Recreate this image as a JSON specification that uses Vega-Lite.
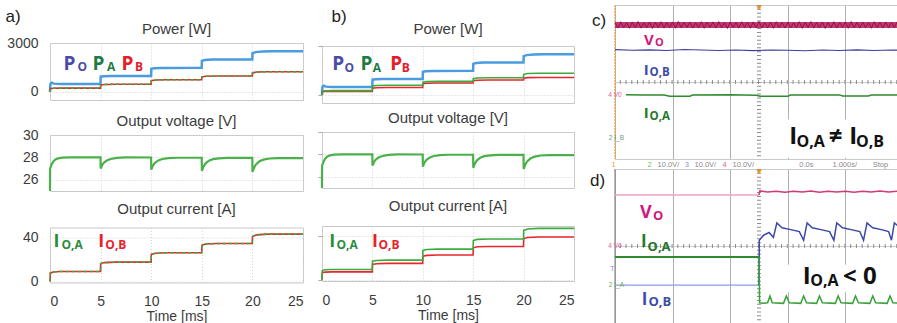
{
"$schema":"https://vega.github.io/schema/vega-lite/v6.json",
"padding":{"left":5,"top":3,"right":0,"bottom":0},
"background":"white",
"config":{
 "font":"Liberation Sans",
 "view":{"stroke":"#C8C8C8"},
 "axis":{"domain":false,"ticks":false,"tickSize":0,"gridColor":"#D2D2D2","gridDash":[1,2],"labelColor":"#3C3C3C","titleColor":"#3C3C3C","labelFont":"Liberation Sans","titleFont":"Liberation Sans","labelFontSize":14,"titleFontSize":14,"titleFontWeight":"normal","format":"d"},
 "title":{"font":"Liberation Sans","fontSize":15,"fontWeight":"normal","color":"#3C3C3C","offset":7,"baseline":"bottom","anchor":"middle","frame":"group"}
},
"datasets":{
 "powA":[
  {"t":0,"v":0,"s":"PO"},{"t":0.03,"v":470,"s":"PO"},{"t":0.15,"v":560,"s":"PO"},{"t":0.4,"v":505,"s":"PO"},{"t":1,"v":490,"s":"PO"},{"t":4.99,"v":490,"s":"PO"},{"t":5.01,"v":930,"s":"PO"},{"t":5.3,"v":955,"s":"PO"},{"t":6,"v":968,"s":"PO"},{"t":9.99,"v":970,"s":"PO"},{"t":10.01,"v":1420,"s":"PO"},{"t":10.3,"v":1450,"s":"PO"},{"t":11,"v":1470,"s":"PO"},{"t":14.99,"v":1475,"s":"PO"},{"t":15.01,"v":1900,"s":"PO"},{"t":15.3,"v":1950,"s":"PO"},{"t":16,"v":1980,"s":"PO"},{"t":19.99,"v":1985,"s":"PO"},{"t":20.01,"v":2380,"s":"PO"},{"t":20.3,"v":2440,"s":"PO"},{"t":21,"v":2480,"s":"PO"},{"t":22,"v":2500,"s":"PO"},{"t":25,"v":2500,"s":"PO"},
  {"t":0,"v":0,"s":"PAB"},{"t":0.03,"v":190,"s":"PAB"},{"t":0.3,"v":225,"s":"PAB"},{"t":1,"v":230,"s":"PAB"},{"t":4.99,"v":230,"s":"PAB"},{"t":5.01,"v":420,"s":"PAB"},{"t":5.4,"v":455,"s":"PAB"},{"t":6.5,"v":470,"s":"PAB"},{"t":9.99,"v":470,"s":"PAB"},{"t":10.01,"v":690,"s":"PAB"},{"t":10.4,"v":730,"s":"PAB"},{"t":11.5,"v":745,"s":"PAB"},{"t":14.99,"v":745,"s":"PAB"},{"t":15.01,"v":920,"s":"PAB"},{"t":15.4,"v":955,"s":"PAB"},{"t":16.5,"v":970,"s":"PAB"},{"t":19.99,"v":970,"s":"PAB"},{"t":20.01,"v":1160,"s":"PAB"},{"t":20.4,"v":1215,"s":"PAB"},{"t":21.5,"v":1235,"s":"PAB"},{"t":25,"v":1235,"s":"PAB"}
 ],
 "powB":[
  {"t":0,"v":0,"s":"PO"},{"t":0.03,"v":470,"s":"PO"},{"t":0.15,"v":560,"s":"PO"},{"t":0.4,"v":505,"s":"PO"},{"t":1,"v":490,"s":"PO"},{"t":4.99,"v":490,"s":"PO"},{"t":5.01,"v":930,"s":"PO"},{"t":5.3,"v":955,"s":"PO"},{"t":6,"v":968,"s":"PO"},{"t":9.99,"v":970,"s":"PO"},{"t":10.01,"v":1420,"s":"PO"},{"t":10.3,"v":1450,"s":"PO"},{"t":11,"v":1470,"s":"PO"},{"t":14.99,"v":1475,"s":"PO"},{"t":15.01,"v":1900,"s":"PO"},{"t":15.3,"v":1950,"s":"PO"},{"t":16,"v":1980,"s":"PO"},{"t":19.99,"v":1985,"s":"PO"},{"t":20.01,"v":2380,"s":"PO"},{"t":20.3,"v":2440,"s":"PO"},{"t":21,"v":2480,"s":"PO"},{"t":22,"v":2500,"s":"PO"},{"t":25,"v":2500,"s":"PO"},
  {"t":0,"v":0,"s":"PA"},{"t":0.03,"v":220,"s":"PA"},{"t":0.3,"v":255,"s":"PA"},{"t":1,"v":260,"s":"PA"},{"t":4.99,"v":260,"s":"PA"},{"t":5.01,"v":540,"s":"PA"},{"t":5.4,"v":575,"s":"PA"},{"t":6.5,"v":590,"s":"PA"},{"t":9.99,"v":590,"s":"PA"},{"t":10.01,"v":780,"s":"PA"},{"t":10.4,"v":815,"s":"PA"},{"t":11.5,"v":830,"s":"PA"},{"t":14.99,"v":830,"s":"PA"},{"t":15.01,"v":990,"s":"PA"},{"t":15.4,"v":1035,"s":"PA"},{"t":16.5,"v":1050,"s":"PA"},{"t":19.99,"v":1050,"s":"PA"},{"t":20.01,"v":1260,"s":"PA"},{"t":20.4,"v":1310,"s":"PA"},{"t":21.5,"v":1330,"s":"PA"},{"t":25,"v":1330,"s":"PA"},
  {"t":0,"v":0,"s":"PB"},{"t":0.03,"v":180,"s":"PB"},{"t":0.3,"v":205,"s":"PB"},{"t":1,"v":210,"s":"PB"},{"t":4.99,"v":210,"s":"PB"},{"t":5.01,"v":410,"s":"PB"},{"t":5.4,"v":440,"s":"PB"},{"t":6.5,"v":450,"s":"PB"},{"t":9.99,"v":450,"s":"PB"},{"t":10.01,"v":680,"s":"PB"},{"t":10.4,"v":715,"s":"PB"},{"t":11.5,"v":725,"s":"PB"},{"t":14.99,"v":725,"s":"PB"},{"t":15.01,"v":870,"s":"PB"},{"t":15.4,"v":900,"s":"PB"},{"t":16.5,"v":910,"s":"PB"},{"t":19.99,"v":910,"s":"PB"},{"t":20.01,"v":1020,"s":"PB"},{"t":20.4,"v":1060,"s":"PB"},{"t":21.5,"v":1070,"s":"PB"},{"t":25,"v":1070,"s":"PB"}
 ],
 "volt":[
  {"t":0,"v":25.0},{"t":0.01,"v":27.0},{"t":0.15,"v":27.35},{"t":0.3,"v":27.6},{"t":0.5,"v":27.8},{"t":0.8,"v":27.92},{"t":1.2,"v":27.98},{"t":2,"v":28.0},{"t":4.99,"v":28.0},
  {"t":5.01,"v":27.0},{"t":5.15,"v":27.3},{"t":5.3,"v":27.5},{"t":5.6,"v":27.72},{"t":6.0,"v":27.86},{"t":6.6,"v":27.95},{"t":7.5,"v":28.0},{"t":9.99,"v":27.99},
  {"t":10.01,"v":26.9},{"t":10.15,"v":27.25},{"t":10.35,"v":27.5},{"t":10.7,"v":27.73},{"t":11.1,"v":27.86},{"t":11.7,"v":27.94},{"t":12.5,"v":27.97},{"t":14.99,"v":27.97},
  {"t":15.01,"v":26.8},{"t":15.15,"v":27.15},{"t":15.35,"v":27.45},{"t":15.7,"v":27.7},{"t":16.1,"v":27.84},{"t":16.7,"v":27.92},{"t":17.5,"v":27.95},{"t":19.99,"v":27.95},
  {"t":20.01,"v":26.7},{"t":20.15,"v":27.05},{"t":20.35,"v":27.38},{"t":20.7,"v":27.65},{"t":21.1,"v":27.8},{"t":21.7,"v":27.9},{"t":22.5,"v":27.94},{"t":25,"v":27.94}
 ],
 "curA":[
  {"t":0,"v":0},{"t":0.03,"v":7.5},{"t":0.3,"v":8.6},{"t":1,"v":9},{"t":4.99,"v":9},{"t":5.01,"v":16.2},{"t":5.4,"v":17.1},{"t":6.5,"v":17.5},{"t":9.99,"v":17.5},{"t":10.01,"v":24.5},{"t":10.4,"v":25.6},{"t":11.5,"v":26},{"t":14.99,"v":26},{"t":15.01,"v":32.8},{"t":15.4,"v":34},{"t":16.5,"v":34.5},{"t":19.99,"v":34.5},{"t":20.01,"v":40.8},{"t":20.4,"v":42.3},{"t":21.5,"v":43},{"t":25,"v":43}
 ],
 "curB":[
  {"t":0,"v":0,"s":"IA"},{"t":0.03,"v":8.5,"s":"IA"},{"t":0.3,"v":9.2,"s":"IA"},{"t":1,"v":9.5,"s":"IA"},{"t":4.99,"v":9.5,"s":"IA"},{"t":5.01,"v":17,"s":"IA"},{"t":5.4,"v":17.7,"s":"IA"},{"t":6.5,"v":18,"s":"IA"},{"t":9.99,"v":18,"s":"IA"},{"t":10.01,"v":26.8,"s":"IA"},{"t":10.4,"v":27.6,"s":"IA"},{"t":11.5,"v":28,"s":"IA"},{"t":14.99,"v":28,"s":"IA"},{"t":15.01,"v":35.8,"s":"IA"},{"t":15.4,"v":36.8,"s":"IA"},{"t":16.5,"v":37.2,"s":"IA"},{"t":19.99,"v":37.2,"s":"IA"},{"t":20.01,"v":45,"s":"IA"},{"t":20.4,"v":46.3,"s":"IA"},{"t":21.5,"v":46.8,"s":"IA"},{"t":25,"v":46.8,"s":"IA"},
  {"t":0,"v":0,"s":"IB"},{"t":0.03,"v":6.5,"s":"IB"},{"t":0.3,"v":7.1,"s":"IB"},{"t":1,"v":7.3,"s":"IB"},{"t":4.99,"v":7.3,"s":"IB"},{"t":5.01,"v":14,"s":"IB"},{"t":5.4,"v":14.7,"s":"IB"},{"t":6.5,"v":15,"s":"IB"},{"t":9.99,"v":15,"s":"IB"},{"t":10.01,"v":21.6,"s":"IB"},{"t":10.4,"v":22.3,"s":"IB"},{"t":11.5,"v":22.6,"s":"IB"},{"t":14.99,"v":22.6,"s":"IB"},{"t":15.01,"v":29.2,"s":"IB"},{"t":15.4,"v":30.1,"s":"IB"},{"t":16.5,"v":30.4,"s":"IB"},{"t":19.99,"v":30.4,"s":"IB"},{"t":20.01,"v":37.6,"s":"IB"},{"t":20.4,"v":38.6,"s":"IB"},{"t":21.5,"v":39,"s":"IB"},{"t":25,"v":39,"s":"IB"}
 ],
 "scC":[
  {"t":-5,"y":2.96,"s":"VoBand"},{"t":5,"y":2.96,"s":"VoBand"},
  {"t":-5.0,"y":3.10,"s":"Vo"},{"t":-4.9,"y":2.80,"s":"Vo"},{"t":-4.8,"y":3.13,"s":"Vo"},{"t":-4.7,"y":2.82,"s":"Vo"},{"t":-4.6,"y":3.09,"s":"Vo"},{"t":-4.5,"y":2.79,"s":"Vo"},{"t":-4.4,"y":3.12,"s":"Vo"},{"t":-4.3,"y":2.83,"s":"Vo"},{"t":-4.2,"y":3.14,"s":"Vo"},{"t":-4.1,"y":2.80,"s":"Vo"},
  {"t":-4.0,"y":3.08,"s":"Vo"},{"t":-3.9,"y":2.81,"s":"Vo"},{"t":-3.8,"y":3.12,"s":"Vo"},{"t":-3.7,"y":2.78,"s":"Vo"},{"t":-3.6,"y":3.11,"s":"Vo"},{"t":-3.5,"y":2.83,"s":"Vo"},{"t":-3.4,"y":3.13,"s":"Vo"},{"t":-3.3,"y":2.80,"s":"Vo"},{"t":-3.2,"y":3.09,"s":"Vo"},{"t":-3.1,"y":2.82,"s":"Vo"},
  {"t":-3.0,"y":3.12,"s":"Vo"},{"t":-2.9,"y":2.79,"s":"Vo"},{"t":-2.8,"y":3.14,"s":"Vo"},{"t":-2.7,"y":2.81,"s":"Vo"},{"t":-2.6,"y":3.10,"s":"Vo"},{"t":-2.5,"y":2.84,"s":"Vo"},{"t":-2.4,"y":3.12,"s":"Vo"},{"t":-2.3,"y":2.80,"s":"Vo"},{"t":-2.2,"y":3.08,"s":"Vo"},{"t":-2.1,"y":2.82,"s":"Vo"},
  {"t":-2.0,"y":3.13,"s":"Vo"},{"t":-1.9,"y":2.79,"s":"Vo"},{"t":-1.8,"y":3.11,"s":"Vo"},{"t":-1.7,"y":2.83,"s":"Vo"},{"t":-1.6,"y":3.12,"s":"Vo"},{"t":-1.5,"y":2.80,"s":"Vo"},{"t":-1.4,"y":3.14,"s":"Vo"},{"t":-1.3,"y":2.81,"s":"Vo"},{"t":-1.2,"y":3.09,"s":"Vo"},{"t":-1.1,"y":2.78,"s":"Vo"},
  {"t":-1.0,"y":3.12,"s":"Vo"},{"t":-0.9,"y":2.82,"s":"Vo"},{"t":-0.8,"y":3.10,"s":"Vo"},{"t":-0.7,"y":2.80,"s":"Vo"},{"t":-0.6,"y":3.13,"s":"Vo"},{"t":-0.5,"y":2.83,"s":"Vo"},{"t":-0.4,"y":3.11,"s":"Vo"},{"t":-0.3,"y":2.79,"s":"Vo"},{"t":-0.2,"y":3.12,"s":"Vo"},{"t":-0.1,"y":2.81,"s":"Vo"},
  {"t":0.0,"y":3.14,"s":"Vo"},{"t":0.1,"y":2.80,"s":"Vo"},{"t":0.2,"y":3.09,"s":"Vo"},{"t":0.3,"y":2.82,"s":"Vo"},{"t":0.4,"y":3.12,"s":"Vo"},{"t":0.5,"y":2.79,"s":"Vo"},{"t":0.6,"y":3.13,"s":"Vo"},{"t":0.7,"y":2.83,"s":"Vo"},{"t":0.8,"y":3.10,"s":"Vo"},{"t":0.9,"y":2.80,"s":"Vo"},
  {"t":1.0,"y":3.12,"s":"Vo"},{"t":1.1,"y":2.81,"s":"Vo"},{"t":1.2,"y":3.08,"s":"Vo"},{"t":1.3,"y":2.82,"s":"Vo"},{"t":1.4,"y":3.13,"s":"Vo"},{"t":1.5,"y":2.79,"s":"Vo"},{"t":1.6,"y":3.11,"s":"Vo"},{"t":1.7,"y":2.83,"s":"Vo"},{"t":1.8,"y":3.14,"s":"Vo"},{"t":1.9,"y":2.80,"s":"Vo"},
  {"t":2.0,"y":3.10,"s":"Vo"},{"t":2.1,"y":2.81,"s":"Vo"},{"t":2.2,"y":3.12,"s":"Vo"},{"t":2.3,"y":2.78,"s":"Vo"},{"t":2.4,"y":3.09,"s":"Vo"},{"t":2.5,"y":2.82,"s":"Vo"},{"t":2.6,"y":3.13,"s":"Vo"},{"t":2.7,"y":2.80,"s":"Vo"},{"t":2.8,"y":3.11,"s":"Vo"},{"t":2.9,"y":2.83,"s":"Vo"},
  {"t":3.0,"y":3.12,"s":"Vo"},{"t":3.1,"y":2.79,"s":"Vo"},{"t":3.2,"y":3.14,"s":"Vo"},{"t":3.3,"y":2.81,"s":"Vo"},{"t":3.4,"y":3.10,"s":"Vo"},{"t":3.5,"y":2.80,"s":"Vo"},{"t":3.6,"y":3.12,"s":"Vo"},{"t":3.7,"y":2.82,"s":"Vo"},{"t":3.8,"y":3.09,"s":"Vo"},{"t":3.9,"y":2.79,"s":"Vo"},
  {"t":4.0,"y":3.13,"s":"Vo"},{"t":4.1,"y":2.83,"s":"Vo"},{"t":4.2,"y":3.11,"s":"Vo"},{"t":4.3,"y":2.80,"s":"Vo"},{"t":4.4,"y":3.12,"s":"Vo"},{"t":4.5,"y":2.81,"s":"Vo"},{"t":4.6,"y":3.10,"s":"Vo"},{"t":4.7,"y":2.82,"s":"Vo"},{"t":4.8,"y":3.13,"s":"Vo"},{"t":4.9,"y":2.79,"s":"Vo"},{"t":5.0,"y":3.11,"s":"Vo"},
  {"t":-5,"y":1.68,"s":"IB"},{"t":-4.4,"y":1.65,"s":"IB"},{"t":-3.8,"y":1.67,"s":"IB"},{"t":-3.2,"y":1.64,"s":"IB"},{"t":-2.6,"y":1.69,"s":"IB"},{"t":-2.0,"y":1.66,"s":"IB"},{"t":-1.4,"y":1.64,"s":"IB"},{"t":-0.8,"y":1.66,"s":"IB"},{"t":-0.2,"y":1.63,"s":"IB"},{"t":0.4,"y":1.66,"s":"IB"},{"t":1.0,"y":1.65,"s":"IB"},{"t":1.6,"y":1.62,"s":"IB"},{"t":2.2,"y":1.66,"s":"IB"},{"t":2.8,"y":1.64,"s":"IB"},{"t":3.4,"y":1.67,"s":"IB"},{"t":4.0,"y":1.64,"s":"IB"},{"t":4.6,"y":1.66,"s":"IB"},{"t":5,"y":1.65,"s":"IB"},
  {"t":-4.62,"y":-0.66,"s":"IA"},{"t":-4.0,"y":-0.68,"s":"IA"},{"t":-3.3,"y":-0.67,"s":"IA"},{"t":-3.1,"y":-0.74,"s":"IA"},{"t":-2.4,"y":-0.74,"s":"IA"},{"t":-2.3,"y":-0.68,"s":"IA"},{"t":-1.0,"y":-0.66,"s":"IA"},{"t":-0.1,"y":-0.69,"s":"IA"},{"t":0.05,"y":-0.74,"s":"IA"},{"t":1.0,"y":-0.74,"s":"IA"},{"t":1.1,"y":-0.68,"s":"IA"},{"t":2.8,"y":-0.67,"s":"IA"},{"t":2.9,"y":-0.73,"s":"IA"},{"t":3.8,"y":-0.73,"s":"IA"},{"t":3.9,"y":-0.68,"s":"IA"},{"t":5,"y":-0.68,"s":"IA"}
 ],
 "scD":[
  {"t":-5,"y":2.65,"s":"VoL"},{"t":0,"y":2.65,"s":"VoL"},
  {"t":0,"y":2.65,"s":"VoR"},{"t":0.03,"y":2.86,"s":"VoR"},{"t":0.3,"y":2.8,"s":"VoR"},{"t":0.6,"y":2.85,"s":"VoR"},{"t":0.9,"y":2.79,"s":"VoR"},{"t":1.2,"y":2.84,"s":"VoR"},{"t":1.5,"y":2.8,"s":"VoR"},{"t":1.8,"y":2.86,"s":"VoR"},{"t":2.1,"y":2.79,"s":"VoR"},{"t":2.4,"y":2.84,"s":"VoR"},{"t":2.7,"y":2.8,"s":"VoR"},{"t":3.0,"y":2.85,"s":"VoR"},{"t":3.3,"y":2.79,"s":"VoR"},{"t":3.6,"y":2.84,"s":"VoR"},{"t":3.9,"y":2.8,"s":"VoR"},{"t":4.2,"y":2.86,"s":"VoR"},{"t":4.5,"y":2.8,"s":"VoR"},{"t":4.8,"y":2.84,"s":"VoR"},{"t":5,"y":2.81,"s":"VoR"},
  {"t":-5,"y":-0.57,"s":"IAL"},{"t":0,"y":-0.57,"s":"IAL"},
  {"t":0,"y":-0.57,"s":"IAR"},{"t":0.02,"y":-2.95,"s":"IAR"},{"t":0.15,"y":-2.98,"s":"IAR"},{"t":0.3,"y":-2.95,"s":"IAR"},{"t":0.38,"y":-2.6,"s":"IAR"},{"t":0.46,"y":-2.95,"s":"IAR"},{"t":0.85,"y":-2.98,"s":"IAR"},{"t":0.95,"y":-2.6,"s":"IAR"},{"t":1.05,"y":-2.95,"s":"IAR"},{"t":1.45,"y":-2.98,"s":"IAR"},{"t":1.55,"y":-2.6,"s":"IAR"},{"t":1.65,"y":-2.95,"s":"IAR"},{"t":2.0,"y":-2.98,"s":"IAR"},{"t":2.1,"y":-2.6,"s":"IAR"},{"t":2.2,"y":-2.95,"s":"IAR"},{"t":2.65,"y":-2.98,"s":"IAR"},{"t":2.75,"y":-2.6,"s":"IAR"},{"t":2.85,"y":-2.95,"s":"IAR"},{"t":3.25,"y":-2.98,"s":"IAR"},{"t":3.35,"y":-2.6,"s":"IAR"},{"t":3.45,"y":-2.95,"s":"IAR"},{"t":3.85,"y":-2.98,"s":"IAR"},{"t":3.95,"y":-2.6,"s":"IAR"},{"t":4.05,"y":-2.95,"s":"IAR"},{"t":4.45,"y":-2.98,"s":"IAR"},{"t":4.55,"y":-2.6,"s":"IAR"},{"t":4.65,"y":-2.95,"s":"IAR"},{"t":5,"y":-2.97,"s":"IAR"},
  {"t":-5,"y":-2.03,"s":"IBL"},{"t":0,"y":-2.03,"s":"IBL"},
  {"t":0,"y":-2.03,"s":"IBR"},{"t":0.01,"y":0.3,"s":"IBR"},{"t":0.15,"y":0.55,"s":"IBR"},{"t":0.35,"y":0.7,"s":"IBR"},{"t":0.5,"y":0.45,"s":"IBR"},{"t":0.62,"y":1.2,"s":"IBR"},{"t":0.8,"y":0.95,"s":"IBR"},{"t":1.1,"y":0.85,"s":"IBR"},{"t":1.4,"y":0.75,"s":"IBR"},{"t":1.55,"y":0.3,"s":"IBR"},{"t":1.67,"y":1.2,"s":"IBR"},{"t":1.85,"y":0.95,"s":"IBR"},{"t":2.15,"y":0.85,"s":"IBR"},{"t":2.45,"y":0.75,"s":"IBR"},{"t":2.6,"y":0.3,"s":"IBR"},{"t":2.7,"y":1.2,"s":"IBR"},{"t":2.9,"y":0.95,"s":"IBR"},{"t":3.2,"y":0.85,"s":"IBR"},{"t":3.5,"y":0.75,"s":"IBR"},{"t":3.63,"y":0.3,"s":"IBR"},{"t":3.75,"y":1.2,"s":"IBR"},{"t":3.95,"y":0.95,"s":"IBR"},{"t":4.25,"y":0.85,"s":"IBR"},{"t":4.5,"y":0.75,"s":"IBR"},{"t":4.6,"y":0.3,"s":"IBR"},{"t":4.7,"y":1.2,"s":"IBR"},{"t":4.9,"y":0.95,"s":"IBR"},{"t":5,"y":0.9,"s":"IBR"}
 ]
},
"spacing":9,
"hconcat":[
 {"spacing":7,"hconcat":[
  {"spacing":-4,"vconcat":[
   {"width":253,"height":1,"view":{"stroke":null},"data":{"values":[{}]},"mark":{"type":"text","text":"a)","font":"Liberation Sans","fontSize":17,"color":"#222222","align":"left","baseline":"middle","dy":11.5},"encoding":{"x":{"datum":-4.4,"type":"quantitative","scale":{"domain":[0,25],"nice":false,"zero":false},"axis":null}}},
   {"spacing":12,"vconcat":[
    {"width":253,"height":57,"title":{"text":"Power [W]","offset":-1},"layer":[
     {"data":{"name":"powA"},"transform":[{"filter":{"field":"s","equal":"PO"}}],"mark":{"type":"line","color":"#4A9BDF","strokeWidth":2.5},
      "encoding":{"x":{"field":"t","type":"quantitative","scale":{"domain":[0,25],"nice":false,"zero":false},"axis":{"values":[0,5,10,15,20,25],"labels":false,"grid":true,"title":null}},
                  "y":{"field":"v","type":"quantitative","scale":{"domain":[-500,3000],"nice":false,"zero":false},"axis":{"values":[0,1000,2000,3000],"labelPadding":12,"grid":true,"title":null}}}},
     {"data":{"name":"powA"},"transform":[{"filter":{"field":"s","equal":"PAB"}}],"mark":{"type":"line","color":"#E8262D","strokeWidth":1.6},"encoding":{"x":{"field":"t","type":"quantitative"},"y":{"field":"v","type":"quantitative"}}},
     {"data":{"name":"powA"},"transform":[{"filter":{"field":"s","equal":"PAB"}}],"mark":{"type":"line","color":"#3DAA3D","strokeWidth":1.6,"strokeDash":[3,3]},"encoding":{"x":{"field":"t","type":"quantitative"},"y":{"field":"v","type":"quantitative"}}},
     {"data":{"values":[{}]},"mark":{"type":"text","text":"P","font":"Open Sans","fontWeight":"bold","fontSize":19,"color":"#4B4BA6","align":"left","baseline":"alphabetic"},"encoding":{"x":{"datum":1.33},"y":{"datum":1366}}},
     {"data":{"values":[{}]},"mark":{"type":"text","text":"O","font":"Open Sans","fontWeight":"bold","fontSize":12,"color":"#4B4BA6","align":"left","baseline":"alphabetic"},"encoding":{"x":{"datum":2.71},"y":{"datum":1268}}},
     {"data":{"values":[{}]},"mark":{"type":"text","text":"P","font":"Open Sans","fontWeight":"bold","fontSize":19,"color":"#1E7B45","align":"left","baseline":"alphabetic"},"encoding":{"x":{"datum":4.2},"y":{"datum":1366}}},
     {"data":{"values":[{}]},"mark":{"type":"text","text":"A","font":"Open Sans","fontWeight":"bold","fontSize":12,"color":"#1E7B45","align":"left","baseline":"alphabetic"},"encoding":{"x":{"datum":5.63},"y":{"datum":1268}}},
     {"data":{"values":[{}]},"mark":{"type":"text","text":"P","font":"Open Sans","fontWeight":"bold","fontSize":19,"color":"#E3202A","align":"left","baseline":"alphabetic"},"encoding":{"x":{"datum":7.07},"y":{"datum":1366}}},
     {"data":{"values":[{}]},"mark":{"type":"text","text":"B","font":"Open Sans","fontWeight":"bold","fontSize":12,"color":"#E3202A","align":"left","baseline":"alphabetic"},"encoding":{"x":{"datum":8.4},"y":{"datum":1268}}}
    ]},
    {"spacing":4.5,"vconcat":[
     {"width":253,"height":56,"title":{"text":"Output voltage [V]","offset":-0.5},"layer":[
      {"data":{"name":"volt"},"mark":{"type":"line","color":"#4AB04A","strokeWidth":2.2},
       "encoding":{"x":{"field":"t","type":"quantitative","scale":{"domain":[0,25],"nice":false,"zero":false},"axis":{"values":[0,5,10,15,20,25],"labels":false,"grid":true,"title":null}},
                   "y":{"field":"v","type":"quantitative","scale":{"domain":[25,30],"nice":false,"zero":false},"axis":{"values":[26,28,30],"labelPadding":12,"grid":true,"title":null}}}}
     ]},
     {"width":253,"height":55,"title":{"text":"Output current [A]","offset":11},"layer":[
      {"data":{"name":"curA"},"mark":{"type":"line","color":"#E8262D","strokeWidth":1.6},
       "encoding":{"x":{"field":"t","type":"quantitative","scale":{"domain":[0,25],"nice":false,"zero":false},"axis":{"values":[0,5,10,15,20,25],"labels":true,"labelPadding":12,"grid":true,"title":"Time [ms]","titlePadding":1}},
                   "y":{"field":"v","type":"quantitative","scale":{"domain":[-1,49],"nice":false,"zero":false},"axis":{"values":[0,20,40],"labelPadding":12,"grid":true,"title":null}}}},
      {"data":{"name":"curA"},"mark":{"type":"line","color":"#3DAA3D","strokeWidth":1.6,"strokeDash":[3,3]},"encoding":{"x":{"field":"t","type":"quantitative"},"y":{"field":"v","type":"quantitative"}}},
      {"data":{"values":[{}]},"mark":{"type":"text","text":"I","font":"Open Sans","fontWeight":"bold","fontSize":18,"color":"#2C8C3C","align":"left","baseline":"alphabetic"},"encoding":{"x":{"datum":0.34},"y":{"datum":31.2}}},
      {"data":{"values":[{}]},"mark":{"type":"text","text":"O,A","font":"Open Sans","fontWeight":"bold","fontSize":12,"color":"#2C8C3C","align":"left","baseline":"alphabetic"},"encoding":{"x":{"datum":1.13},"y":{"datum":29.1}}},
      {"data":{"values":[{}]},"mark":{"type":"text","text":"I","font":"Open Sans","fontWeight":"bold","fontSize":18,"color":"#E8202A","align":"left","baseline":"alphabetic"},"encoding":{"x":{"datum":4.78},"y":{"datum":31.2}}},
      {"data":{"values":[{}]},"mark":{"type":"text","text":"O,B","font":"Open Sans","fontWeight":"bold","fontSize":12,"color":"#E8202A","align":"left","baseline":"alphabetic"},"encoding":{"x":{"datum":5.47},"y":{"datum":29.1}}}
     ]}
    ]}
   ]}
  ]},
  {"spacing":-4,"vconcat":[
   {"width":252,"height":1,"view":{"stroke":null},"data":{"values":[{}]},"mark":{"type":"text","text":"b)","font":"Liberation Sans","fontSize":17,"color":"#222222","align":"left","baseline":"middle","dy":11.5},"encoding":{"x":{"datum":0.95,"type":"quantitative","scale":{"domain":[0,25],"nice":false,"zero":false},"axis":null}}},
   {"spacing":6,"vconcat":[
    {"width":252,"height":57,"title":{"text":"Power [W]","offset":8.5},"layer":[
     {"data":{"name":"powB"},"transform":[{"filter":{"field":"s","equal":"PO"}}],"mark":{"type":"line","color":"#4A9BDF","strokeWidth":2.5},
      "encoding":{"x":{"field":"t","type":"quantitative","scale":{"domain":[0,25],"nice":false,"zero":false},"axis":{"values":[0,5,10,15,20,25],"labels":false,"grid":true,"title":null}},
                  "y":{"field":"v","type":"quantitative","scale":{"domain":[-500,3000],"nice":false,"zero":false},"axis":{"values":[0,1000,2000,3000],"labels":false,"ticks":true,"tickSize":4,"tickColor":"#A8A8A8","grid":true,"title":null}}}},
     {"data":{"name":"powB"},"transform":[{"filter":{"field":"s","equal":"PB"}}],"mark":{"type":"line","color":"#E8262D","strokeWidth":1.6},"encoding":{"x":{"field":"t","type":"quantitative"},"y":{"field":"v","type":"quantitative"}}},
     {"data":{"name":"powB"},"transform":[{"filter":{"field":"s","equal":"PA"}}],"mark":{"type":"line","color":"#3DAA3D","strokeWidth":1.6},"encoding":{"x":{"field":"t","type":"quantitative"},"y":{"field":"v","type":"quantitative"}}},
     {"data":{"values":[{}]},"mark":{"type":"text","text":"P","font":"Open Sans","fontWeight":"bold","fontSize":19,"color":"#4B4BA6","align":"left","baseline":"alphabetic"},"encoding":{"x":{"datum":1.01},"y":{"datum":1512}}},
     {"data":{"values":[{}]},"mark":{"type":"text","text":"O","font":"Open Sans","fontWeight":"bold","fontSize":12,"color":"#4B4BA6","align":"left","baseline":"alphabetic"},"encoding":{"x":{"datum":2.22},"y":{"datum":1420}}},
     {"data":{"values":[{}]},"mark":{"type":"text","text":"P","font":"Open Sans","fontWeight":"bold","fontSize":19,"color":"#1E7B45","align":"left","baseline":"alphabetic"},"encoding":{"x":{"datum":3.82},"y":{"datum":1512}}},
     {"data":{"values":[{}]},"mark":{"type":"text","text":"A","font":"Open Sans","fontWeight":"bold","fontSize":12,"color":"#1E7B45","align":"left","baseline":"alphabetic"},"encoding":{"x":{"datum":5.03},"y":{"datum":1420}}},
     {"data":{"values":[{}]},"mark":{"type":"text","text":"P","font":"Open Sans","fontWeight":"bold","fontSize":19,"color":"#E3202A","align":"left","baseline":"alphabetic"},"encoding":{"x":{"datum":6.77},"y":{"datum":1512}}},
     {"data":{"values":[{}]},"mark":{"type":"text","text":"B","font":"Open Sans","fontWeight":"bold","fontSize":12,"color":"#E3202A","align":"left","baseline":"alphabetic"},"encoding":{"x":{"datum":7.91},"y":{"datum":1420}}}
    ]},
    {"spacing":5,"vconcat":[
     {"width":252,"height":56,"title":{"text":"Output voltage [V]","offset":6},"layer":[
      {"data":{"name":"volt"},"mark":{"type":"line","color":"#4AB04A","strokeWidth":2.2},
       "encoding":{"x":{"field":"t","type":"quantitative","scale":{"domain":[0,25],"nice":false,"zero":false},"axis":{"values":[0,5,10,15,20,25],"labels":false,"grid":true,"title":null}},
                   "y":{"field":"v","type":"quantitative","scale":{"domain":[25,30],"nice":false,"zero":false},"axis":{"values":[26,28,30],"labels":false,"ticks":true,"tickSize":4,"tickColor":"#A8A8A8","grid":true,"title":null}}}}
     ]},
     {"width":252,"height":55,"title":{"text":"Output current [A]","offset":11},"layer":[
      {"data":{"name":"curB"},"transform":[{"filter":{"field":"s","equal":"IB"}}],"mark":{"type":"line","color":"#E8262D","strokeWidth":1.6},
       "encoding":{"x":{"field":"t","type":"quantitative","scale":{"domain":[0,25],"nice":false,"zero":false},"axis":{"values":[0,5,10,15,20,25],"labels":true,"labelPadding":12,"grid":true,"title":"Time [ms]","titlePadding":1}},
                   "y":{"field":"v","type":"quantitative","scale":{"domain":[-1,49],"nice":false,"zero":false},"axis":{"values":[0,20,40],"labels":false,"ticks":true,"tickSize":4,"tickColor":"#A8A8A8","grid":true,"title":null}}}},
      {"data":{"name":"curB"},"transform":[{"filter":{"field":"s","equal":"IA"}}],"mark":{"type":"line","color":"#3DAA3D","strokeWidth":1.6},"encoding":{"x":{"field":"t","type":"quantitative"},"y":{"field":"v","type":"quantitative"}}},
      {"data":{"values":[{}]},"mark":{"type":"text","text":"I","font":"Open Sans","fontWeight":"bold","fontSize":18,"color":"#2C8C3C","align":"left","baseline":"alphabetic"},"encoding":{"x":{"datum":0.73},"y":{"datum":29.7}}},
      {"data":{"values":[{}]},"mark":{"type":"text","text":"O,A","font":"Open Sans","fontWeight":"bold","fontSize":12,"color":"#2C8C3C","align":"left","baseline":"alphabetic"},"encoding":{"x":{"datum":1.43},"y":{"datum":28.0}}},
      {"data":{"values":[{}]},"mark":{"type":"text","text":"I","font":"Open Sans","fontWeight":"bold","fontSize":18,"color":"#E8202A","align":"left","baseline":"alphabetic"},"encoding":{"x":{"datum":4.97},"y":{"datum":29.7}}},
      {"data":{"values":[{}]},"mark":{"type":"text","text":"O,B","font":"Open Sans","fontWeight":"bold","fontSize":12,"color":"#E8202A","align":"left","baseline":"alphabetic"},"encoding":{"x":{"datum":5.6},"y":{"datum":28.0}}}
     ]}
    ]}
   ]}
  ]}
 ]},
 {"spacing":-4,"vconcat":[
  {"width":288,"height":154,"view":{"stroke":null},"layer":[
   {"data":{"values":[{}]},"mark":{"type":"rect","color":"white"},"encoding":{"x":{"datum":0.9},"x2":{"datum":5.3},"y":{"datum":-1.95},"y2":{"datum":-3.93}}},
   {"data":{"values":[{}]},"mark":{"type":"rule","color":"#8C8C8C","strokeWidth":4,"strokeDash":[1,4.76]},"encoding":{"y":{"datum":0}}},
   {"data":{"values":[{}]},"mark":{"type":"rule","color":"#8C8C8C","strokeWidth":4,"strokeDash":[1,2.85]},"encoding":{"x":{"datum":0}}},
   {"data":{"values":[{}]},"mark":{"type":"rule","color":"#E9A65A","strokeWidth":1.5,"strokeDash":[2,1]},"encoding":{"x":{"datum":-5}}},
   {"data":{"name":"scC"},"transform":[{"filter":{"field":"s","equal":"VoBand"}}],"mark":{"type":"line","color":"#C23A72","strokeWidth":6},
    "encoding":{"x":{"field":"t","type":"quantitative","scale":{"domain":[-5,5],"nice":false,"zero":false},"axis":{"values":[-5,-4,-3,-2,-1,0,1,2,3,4,5],"labels":false,"grid":true,"gridDash":[],"gridColor":"#B0B0B0","gridWidth":1,"title":null}},
                "y":{"field":"y","type":"quantitative","scale":{"domain":[-4,4],"nice":false,"zero":false},"axis":{"values":[-4,-3,-2,-1,0,1,2,3,4],"labels":false,"grid":true,"gridDash":[],"gridColor":"#CACACA","gridWidth":1.2,"title":null}}}},
   {"data":{"name":"scC"},"transform":[{"filter":{"field":"s","equal":"Vo"}}],"mark":{"type":"line","color":"#8A0F45","strokeWidth":0.9},"encoding":{"x":{"field":"t","type":"quantitative"},"y":{"field":"y","type":"quantitative"}}},
   {"data":{"name":"scC"},"transform":[{"filter":{"field":"s","equal":"IB"}}],"mark":{"type":"line","color":"#3B3F9E","strokeWidth":1.1},"encoding":{"x":{"field":"t","type":"quantitative"},"y":{"field":"y","type":"quantitative"}}},
   {"data":{"name":"scC"},"transform":[{"filter":{"field":"s","equal":"IA"}}],"mark":{"type":"line","color":"#2E8B2E","strokeWidth":1.5},"encoding":{"x":{"field":"t","type":"quantitative"},"y":{"field":"y","type":"quantitative"}}},
   {"data":{"values":[{}]},"mark":{"type":"point","shape":"triangle-down","filled":true,"color":"#F09020","size":30,"opacity":1},"encoding":{"x":{"datum":0},"y":{"datum":3.85}}},
   {"data":{"values":[{}]},"mark":{"type":"text","text":"c)","font":"Liberation Sans","fontSize":17,"color":"#222222","align":"left","baseline":"middle"},"encoding":{"x":{"datum":-5.8},"y":{"datum":3.17}}},
   {"data":{"values":[{}]},"mark":{"type":"text","text":"V","font":"Open Sans","fontWeight":"bold","fontSize":15,"color":"#D4177A","align":"left","baseline":"alphabetic"},"encoding":{"x":{"datum":-3.99},"y":{"datum":1.92}}},
   {"data":{"values":[{}]},"mark":{"type":"text","text":"O","font":"Open Sans","fontWeight":"bold","fontSize":11,"color":"#D4177A","align":"left","baseline":"alphabetic"},"encoding":{"x":{"datum":-3.61},"y":{"datum":1.87}}},
   {"data":{"values":[{}]},"mark":{"type":"text","text":"I","font":"Open Sans","fontWeight":"bold","fontSize":15,"color":"#3C4BA8","align":"left","baseline":"alphabetic"},"encoding":{"x":{"datum":-4.0},"y":{"datum":0.36}}},
   {"data":{"values":[{}]},"mark":{"type":"text","text":"O,B","font":"Open Sans","fontWeight":"bold","fontSize":11.5,"color":"#3C4BA8","align":"left","baseline":"alphabetic"},"encoding":{"x":{"datum":-3.8},"y":{"datum":0.31}}},
   {"data":{"values":[{}]},"mark":{"type":"text","text":"I","font":"Open Sans","fontWeight":"bold","fontSize":15,"color":"#27792A","align":"left","baseline":"alphabetic"},"encoding":{"x":{"datum":-4.0},"y":{"datum":-1.87}}},
   {"data":{"values":[{}]},"mark":{"type":"text","text":"O,A","font":"Open Sans","fontWeight":"bold","fontSize":11.5,"color":"#27792A","align":"left","baseline":"alphabetic"},"encoding":{"x":{"datum":-3.8},"y":{"datum":-1.97}}},
   {"data":{"values":[{}]},"mark":{"type":"text","text":"I","font":"Open Sans","fontWeight":"bold","fontSize":24,"color":"#111111","align":"left","baseline":"alphabetic"},"encoding":{"x":{"datum":1.05},"y":{"datum":-3.22}}},
   {"data":{"values":[{}]},"mark":{"type":"text","text":"O,A","font":"Open Sans","fontWeight":"bold","fontSize":16,"color":"#111111","align":"left","baseline":"alphabetic"},"encoding":{"x":{"datum":1.3},"y":{"datum":-3.38}}},
   {"data":{"values":[{}]},"mark":{"type":"text","text":"≠","font":"Open Sans","fontWeight":"bold","fontSize":24,"color":"#111111","align":"left","baseline":"alphabetic"},"encoding":{"x":{"datum":2.42},"y":{"datum":-3.22}}},
   {"data":{"values":[{}]},"mark":{"type":"text","text":"I","font":"Open Sans","fontWeight":"bold","fontSize":24,"color":"#111111","align":"left","baseline":"alphabetic"},"encoding":{"x":{"datum":3.13},"y":{"datum":-3.22}}},
   {"data":{"values":[{}]},"mark":{"type":"text","text":"O,B","font":"Open Sans","fontWeight":"bold","fontSize":16,"color":"#111111","align":"left","baseline":"alphabetic"},"encoding":{"x":{"datum":3.37},"y":{"datum":-3.38}}},
   {"data":{"values":[{}]},"mark":{"type":"text","text":"4 V0","fontSize":6.5,"color":"#E0609A","align":"center","baseline":"middle"},"encoding":{"x":{"datum":-5.0},"y":{"datum":-0.68}}},
   {"data":{"values":[{}]},"mark":{"type":"text","text":"2 I_B","fontSize":6.5,"color":"#6A9A8A","align":"center","baseline":"middle"},"encoding":{"x":{"datum":-4.95},"y":{"datum":-2.91}}},
   {"data":{"values":[{}]},"mark":{"type":"text","text":"1","fontSize":7.5,"color":"#F0A040","align":"left","baseline":"middle"},"encoding":{"x":{"datum":-5.12},"y":{"datum":-4.31}}},
   {"data":{"values":[{}]},"mark":{"type":"text","text":"2","fontSize":7.5,"color":"#7DBB5A","align":"left","baseline":"middle"},"encoding":{"x":{"datum":-3.87},"y":{"datum":-4.31}}},
   {"data":{"values":[{}]},"mark":{"type":"text","text":"10.0V/","fontSize":7.5,"color":"#8A8A8A","align":"left","baseline":"middle"},"encoding":{"x":{"datum":-3.52},"y":{"datum":-4.31}}},
   {"data":{"values":[{}]},"mark":{"type":"text","text":"3","fontSize":7.5,"color":"#8A90D0","align":"left","baseline":"middle"},"encoding":{"x":{"datum":-2.58},"y":{"datum":-4.31}}},
   {"data":{"values":[{}]},"mark":{"type":"text","text":"10.0V/","fontSize":7.5,"color":"#8A8A8A","align":"left","baseline":"middle"},"encoding":{"x":{"datum":-2.24},"y":{"datum":-4.31}}},
   {"data":{"values":[{}]},"mark":{"type":"text","text":"4","fontSize":7.5,"color":"#E0609A","align":"left","baseline":"middle"},"encoding":{"x":{"datum":-1.27},"y":{"datum":-4.31}}},
   {"data":{"values":[{}]},"mark":{"type":"text","text":"10.0V/","fontSize":7.5,"color":"#8A8A8A","align":"left","baseline":"middle"},"encoding":{"x":{"datum":-0.92},"y":{"datum":-4.31}}},
   {"data":{"values":[{}]},"mark":{"type":"text","text":"0.0s","fontSize":7.5,"color":"#8A8A8A","align":"left","baseline":"middle"},"encoding":{"x":{"datum":1.4},"y":{"datum":-4.31}}},
   {"data":{"values":[{}]},"mark":{"type":"text","text":"1.000s/","fontSize":7.5,"color":"#8A8A8A","align":"left","baseline":"middle"},"encoding":{"x":{"datum":2.55},"y":{"datum":-4.31}}},
   {"data":{"values":[{}]},"mark":{"type":"text","text":"Stop","fontSize":7.5,"color":"#8A8A8A","align":"left","baseline":"middle"},"encoding":{"x":{"datum":3.95},"y":{"datum":-4.31}}}
  ]},
  {"width":288,"height":154,"view":{"stroke":null},"layer":[
   {"data":{"values":[{}]},"mark":{"type":"rect","color":"white"},"encoding":{"x":{"datum":0.9},"x2":{"datum":5.3},"y":{"datum":-0.98},"y2":{"datum":-2.4}}},
   {"data":{"values":[{}]},"mark":{"type":"rule","color":"#8C8C8C","strokeWidth":4,"strokeDash":[1,4.76]},"encoding":{"y":{"datum":0}}},
   {"data":{"values":[{}]},"mark":{"type":"rule","color":"#8C8C8C","strokeWidth":4,"strokeDash":[1,2.85]},"encoding":{"x":{"datum":0}}},
   {"data":{"values":[{}]},"mark":{"type":"rule","color":"#8A8A8A","strokeWidth":1.2},"encoding":{"x":{"datum":-5}}},
   {"data":{"name":"scD"},"transform":[{"filter":{"field":"s","equal":"VoL"}}],"mark":{"type":"line","color":"#F2A0C4","strokeWidth":1.3},
    "encoding":{"x":{"field":"t","type":"quantitative","scale":{"domain":[-5,5],"nice":false,"zero":false},"axis":{"values":[-5,-4,-3,-2,-1,0,1,2,3,4,5],"labels":false,"grid":true,"gridDash":[],"gridColor":"#B0B0B0","gridWidth":1,"title":null}},
                "y":{"field":"y","type":"quantitative","scale":{"domain":[-4,4],"nice":false,"zero":false},"axis":{"values":[-4,-3,-2,-1,0,1,2,3,4],"labels":false,"grid":true,"gridDash":[],"gridColor":"#CACACA","gridWidth":1.2,"title":null}}}},
   {"data":{"name":"scD"},"transform":[{"filter":{"field":"s","equal":"VoR"}}],"mark":{"type":"line","color":"#D23A76","strokeWidth":1.5},"encoding":{"x":{"field":"t","type":"quantitative"},"y":{"field":"y","type":"quantitative"}}},
   {"data":{"name":"scD"},"transform":[{"filter":{"field":"s","equal":"IBL"}}],"mark":{"type":"line","color":"#8C9BE6","strokeWidth":1.1},"encoding":{"x":{"field":"t","type":"quantitative"},"y":{"field":"y","type":"quantitative"}}},
   {"data":{"name":"scD"},"transform":[{"filter":{"field":"s","equal":"IBR"}}],"mark":{"type":"line","color":"#3A48A8","strokeWidth":1.5},"encoding":{"x":{"field":"t","type":"quantitative"},"y":{"field":"y","type":"quantitative"}}},
   {"data":{"name":"scD"},"transform":[{"filter":{"field":"s","equal":"IAL"}}],"mark":{"type":"line","color":"#2E8B2E","strokeWidth":2},"encoding":{"x":{"field":"t","type":"quantitative"},"y":{"field":"y","type":"quantitative"}}},
   {"data":{"name":"scD"},"transform":[{"filter":{"field":"s","equal":"IAR"}}],"mark":{"type":"line","color":"#3AA03A","strokeWidth":1.5},"encoding":{"x":{"field":"t","type":"quantitative"},"y":{"field":"y","type":"quantitative"}}},
   {"data":{"values":[{}]},"mark":{"type":"point","shape":"triangle-down","filled":true,"color":"#F09020","size":30,"opacity":1},"encoding":{"x":{"datum":0},"y":{"datum":3.85}}},
   {"data":{"values":[{}]},"mark":{"type":"text","text":"d)","font":"Liberation Sans","fontSize":17,"color":"#222222","align":"left","baseline":"middle"},"encoding":{"x":{"datum":-5.87},"y":{"datum":3.38}}},
   {"data":{"values":[{}]},"mark":{"type":"text","text":"V","font":"Open Sans","fontWeight":"bold","fontSize":18,"color":"#D4177A","align":"left","baseline":"alphabetic"},"encoding":{"x":{"datum":-4.13},"y":{"datum":1.45}}},
   {"data":{"values":[{}]},"mark":{"type":"text","text":"O","font":"Open Sans","fontWeight":"bold","fontSize":13,"color":"#D4177A","align":"left","baseline":"alphabetic"},"encoding":{"x":{"datum":-3.68},"y":{"datum":1.35}}},
   {"data":{"values":[{}]},"mark":{"type":"text","text":"I","font":"Open Sans","fontWeight":"bold","fontSize":17,"color":"#27792A","align":"left","baseline":"alphabetic"},"encoding":{"x":{"datum":-4.1},"y":{"datum":-0.05}}},
   {"data":{"values":[{}]},"mark":{"type":"text","text":"O,A","font":"Open Sans","fontWeight":"bold","fontSize":13,"color":"#27792A","align":"left","baseline":"alphabetic"},"encoding":{"x":{"datum":-3.87},"y":{"datum":-0.26}}},
   {"data":{"values":[{}]},"mark":{"type":"text","text":"I","font":"Open Sans","fontWeight":"bold","fontSize":17,"color":"#3C4BA8","align":"left","baseline":"alphabetic"},"encoding":{"x":{"datum":-4.07},"y":{"datum":-3.06}}},
   {"data":{"values":[{}]},"mark":{"type":"text","text":"O,B","font":"Open Sans","fontWeight":"bold","fontSize":13,"color":"#3C4BA8","align":"left","baseline":"alphabetic"},"encoding":{"x":{"datum":-3.84},"y":{"datum":-3.1}}},
   {"data":{"values":[{}]},"mark":{"type":"text","text":"I","font":"Open Sans","fontWeight":"bold","fontSize":24,"color":"#111111","align":"left","baseline":"alphabetic"},"encoding":{"x":{"datum":1.52},"y":{"datum":-1.97}}},
   {"data":{"values":[{}]},"mark":{"type":"text","text":"O,A","font":"Open Sans","fontWeight":"bold","fontSize":16,"color":"#111111","align":"left","baseline":"alphabetic"},"encoding":{"x":{"datum":1.78},"y":{"datum":-2.1}}},
   {"data":{"values":[{}]},"mark":{"type":"text","text":"< 0","font":"Open Sans","fontWeight":"bold","fontSize":24,"color":"#111111","align":"left","baseline":"alphabetic"},"encoding":{"x":{"datum":2.92},"y":{"datum":-1.97}}},
   {"data":{"values":[{}]},"mark":{"type":"text","text":"4 V0","fontSize":6.5,"color":"#E0609A","align":"center","baseline":"middle"},"encoding":{"x":{"datum":-5.0},"y":{"datum":0}}},
   {"data":{"values":[{}]},"mark":{"type":"text","text":"T","fontSize":6.5,"color":"#7A86C8","align":"center","baseline":"middle"},"encoding":{"x":{"datum":-5.1},"y":{"datum":-1.2}}},
   {"data":{"values":[{}]},"mark":{"type":"text","text":"2 I_A","fontSize":6.5,"color":"#6AAA5A","align":"center","baseline":"middle"},"encoding":{"x":{"datum":-4.95},"y":{"datum":-2.03}}}
  ]}
 ]}
]
}
